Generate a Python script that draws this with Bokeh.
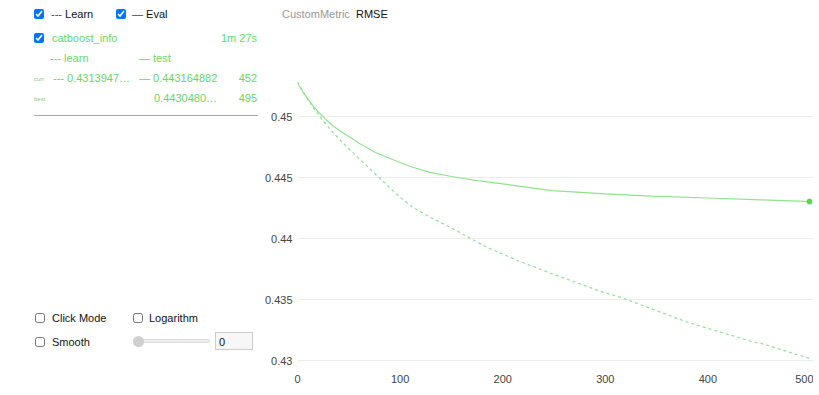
from bokeh.plotting import figure
from bokeh.models import Div, Range1d, FixedTicker
from bokeh.layouts import row, column
from bokeh.embed import file_html
from bokeh.resources import INLINE

# ---- data ----
iters_learn = [0, 5, 10, 16, 26, 35, 44, 60, 77, 95, 112, 130, 150, 183, 215, 248, 296, 316,
               345, 380, 445, 452, 499]
learn_rmse = [0.45285, 0.4521, 0.4514, 0.45065, 0.44955, 0.44865, 0.44785, 0.44655, 0.44520,
              0.44375, 0.44257, 0.44172, 0.44087, 0.43934, 0.43818, 0.43711, 0.43565, 0.43515,
              0.43424, 0.43314, 0.43150, 0.43139, 0.43018]

iters_test = [0, 5, 10, 15, 20, 27, 35, 44, 60, 76, 95, 110, 128, 150, 175, 200, 248, 300,
              345, 400, 452, 495, 499]
test_rmse = [0.45275, 0.45205, 0.45145, 0.45090, 0.45040, 0.44980, 0.44920, 0.44868, 0.44781,
             0.44705, 0.44639, 0.44590, 0.44544, 0.44508, 0.44474, 0.44447, 0.44393, 0.44366,
             0.44347, 0.44332, 0.443165, 0.443048, 0.44303]

x_ticks = [0, 100, 200, 300, 400, 500]
y_ticks = [0.43, 0.435, 0.44, 0.445, 0.45]
y_tick_labels = ["0.43", "0.435", "0.44", "0.445", "0.45"]

metric_tabs = ["CustomMetric", "RMSE"]
run_name = "catboost_info"
elapsed = "1m 27s"
curr_learn = "0.4313947\u2026"
curr_test = "0.443164882"
curr_iter = "452"
best_test = "0.4430480\u2026"
best_iter = "495"

GREEN = "#66d866"
LINE_GREEN = "#90e290"
FONT = "'Liberation Sans', Arial, sans-serif"
DIV_W = 261
FIG_W = 552


def txt(left, cy, s, color="#222", size=11, right=None, lh=14, box_w=DIV_W):
    top = cy - lh / 2
    if right is not None:
        pos = f"right:{box_w - right}px;"
    else:
        pos = f"left:{left}px;"
    return (f"<div style=\"position:absolute;{pos}top:{top}px;line-height:{lh}px;"
            f"font-size:{size}px;color:{color};white-space:nowrap\">{s}</div>")


def cb(left, top, checked):
    c = "checked" if checked else ""
    return (f"<input type=\"checkbox\" {c} style=\"position:absolute;left:{left}px;top:{top}px;"
            f"width:10px;height:10px;margin:0\">")


parts = []
parts.append(cb(34, 9, True))
parts.append(txt(51, 14, "<span style='color:#444'>---</span> Learn", "#111"))
parts.append(cb(116, 9, True))
parts.append(txt(132, 14, "<span style='color:#444'>\u2014</span> Eval", "#111"))
parts.append(cb(34, 33, True))
parts.append(txt(52, 38, run_name, GREEN))
parts.append(txt(0, 38, elapsed, GREEN, right=257))
parts.append(txt(50, 58, "--- learn", GREEN))
parts.append(txt(139, 58, "\u2014 test", GREEN))
parts.append(txt(34, 79, "curr", "#88cc88", size=6))
parts.append(txt(53, 78, "--- " + curr_learn, GREEN))
parts.append(txt(139, 78, "\u2014 " + curr_test, GREEN))
parts.append(txt(0, 78, curr_iter, GREEN, right=257))
parts.append(txt(34, 99, "best", "#88cc88", size=6))
parts.append(txt(154, 98, best_test, GREEN))
parts.append(txt(0, 98, best_iter, GREEN, right=257))
parts.append("<div style=\"position:absolute;left:34px;top:115px;width:224px;height:1px;background:#aaa\"></div>")
parts.append(cb(35, 313, False))
parts.append(txt(52, 318, "Click Mode", "#111"))
parts.append(cb(133, 313, False))
parts.append(txt(149, 318, "Logarithm", "#111"))
parts.append(cb(35, 337, False))
parts.append(txt(52, 342, "Smooth", "#111"))
parts.append("<div style=\"position:absolute;left:133px;top:339px;width:77px;height:4px;"
             "background:#ececec;border:1px solid #dcdcdc;border-radius:3px\"></div>")
parts.append("<div style=\"position:absolute;left:133px;top:336px;width:11px;height:11px;"
             "background:#cfcfcf;border-radius:50%\"></div>")
parts.append("<div style=\"position:absolute;left:215px;top:332px;width:38px;height:18px;"
             "background:#f7f7f7;border:1px solid #cccccc\"></div>")
parts.append(txt(219, 342, "0", "#111"))

html = (f"<div style=\"position:relative;width:{DIV_W}px;height:393px;font-family:{FONT};\">"
        + "".join(parts) + "</div>")
div = Div(text=html, width=DIV_W, height=393, margin=0)

tab_html = (f"<div style=\"position:relative;width:{FIG_W}px;height:30px;font-family:{FONT};\">"
            + txt(21, 14, metric_tabs[0], "#999999", box_w=FIG_W)
            + txt(95, 14, metric_tabs[1], "#111111", box_w=FIG_W)
            + "</div>")
tabs = Div(text=tab_html, width=FIG_W, height=30, margin=0)

# ---- chart ----
px_per_unit_y = 12200.0
y0 = 0.43 - 6 / px_per_unit_y
y1 = 0.45 + 86 / px_per_unit_y

p = figure(width=FIG_W, height=363, output_backend="svg", toolbar_location=None,
           x_range=Range1d(0, 518 / 1.03), y_range=Range1d(y0, y1),
           min_border_left=34, min_border_right=0, min_border_top=0, min_border_bottom=27)
p.outline_line_color = None
p.background_fill_color = "white"
p.border_fill_color = "white"
p.xgrid.grid_line_color = None
p.ygrid.grid_line_color = "#ececec"
p.ygrid.grid_line_width = 1

p.xaxis.ticker = FixedTicker(ticks=x_ticks)
p.yaxis.ticker = FixedTicker(ticks=y_ticks)
p.yaxis.major_label_overrides = {t: l for t, l in zip(y_ticks, y_tick_labels)}
for ax in (p.xaxis, p.yaxis):
    ax.axis_line_color = None
    ax.major_tick_line_color = None
    ax.minor_tick_line_color = None
    ax.major_tick_out = 0
    ax.major_tick_in = 0
    ax.major_label_text_font = "Liberation Sans"
    ax.major_label_text_font_size = "11px"
    ax.major_label_text_color = "#444444"
p.xaxis.major_label_standoff = 8
p.yaxis.major_label_standoff = 5

p.line(iters_learn, learn_rmse, line_color=LINE_GREEN, line_width=1.2, line_dash="3 3")
p.line(iters_test, test_rmse, line_color=LINE_GREEN, line_width=1.2)
p.scatter([iters_test[-1]], [test_rmse[-1]], size=5, color="#55d655")

layout = row(div, column(tabs, p))
open("out.html", "w").write(file_html(layout, INLINE))
